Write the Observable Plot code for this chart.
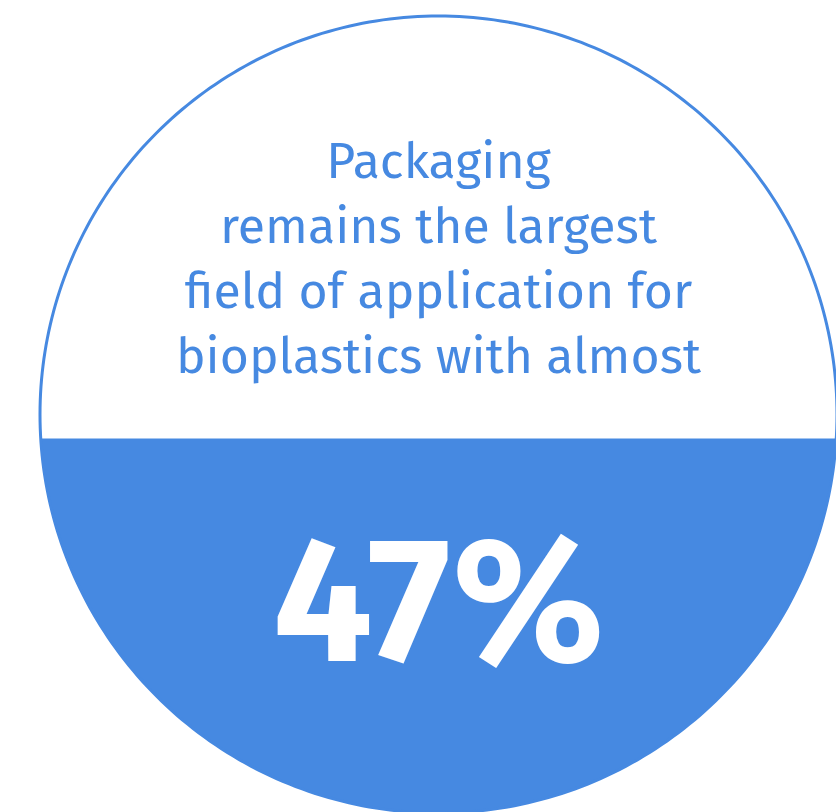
<!DOCTYPE html>
<html>
<head>
<meta charset="utf-8">
<script src="https://cdn.jsdelivr.net/npm/d3@7"></script>
<script src="https://cdn.jsdelivr.net/npm/@observablehq/plot@0.6"></script>
<style>
  html, body { margin: 0; padding: 0; background: #ffffff; }
  #chart svg { display: block; }
</style>
</head>
<body>
<div id="chart"></div>
<script>
// Share of bioplastics used in packaging
const sharePercent = 47;
const shareLabel = "47%";
const headlineLines = [
  "Packaging",
  "remains the largest",
  "field of application for",
  "bioplastics with almost"
];

const blue = "#4689e1";
const textFont = "'Fira Sans', 'Open Sans', 'Noto Sans', sans-serif";

// Unit circle outline (geometry in scale units, centred at 0,0)
const outline = d3.range(0, 361).map(i => {
  const a = (i / 360) * 2 * Math.PI;
  return {x: Math.cos(a), y: Math.sin(a)};
});

// Filled segment: the circle filled from the bottom up to the share of its height
const level = -1 + 2 * sharePercent / 100;
const alpha = Math.asin(level);
const a0 = Math.PI - alpha, a1 = 2 * Math.PI + alpha;
const segment = d3.range(0, 241).map(i => {
  const a = a0 + (a1 - a0) * i / 240;
  return {x: Math.cos(a), y: Math.sin(a)};
});

const chart = Plot.plot({
  width: 836,
  height: 812,
  margin: 0,
  x: {domain: [-1, 1], range: [39.5, 836.5], axis: null},
  y: {domain: [-1, 1], range: [812.5, 15.5], axis: null},
  marks: [
    Plot.line(segment, {x: "x", y: "y", fill: blue, stroke: "none", curve: "linear-closed"}),
    Plot.line(outline, {x: "x", y: "y", stroke: blue, strokeWidth: 3, curve: "linear-closed"}),
    Plot.text([headlineLines.join("\n")], {
      x: () => 0, y: () => 0, text: d => d,
      lineAnchor: "bottom", lineHeight: 1.3, dy: -42,
      fill: blue, fontSize: 50, fontFamily: textFont, textAnchor: "middle"
    }),
    Plot.text([shareLabel], {
      x: () => 0, y: () => 0, text: d => d,
      lineAnchor: "bottom", dy: 246,
      fill: "#ffffff", fontSize: 177, fontWeight: 700, fontFamily: textFont, textAnchor: "middle"
    })
  ]
});

document.getElementById("chart").appendChild(chart);
</script>
</body>
</html>
